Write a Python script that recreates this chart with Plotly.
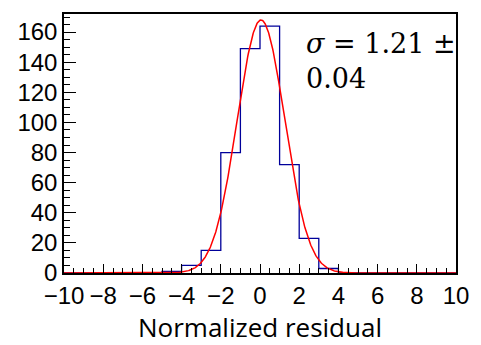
import numpy as np
import plotly.graph_objects as go

# Histogram data (bin edges of width 1 from -10 to 10)
bin_edges = list(range(-10, 11))
counts = [0, 0, 0, 0, 0, 1, 5, 15, 80, 149, 164, 72, 23, 3, 0, 0, 0, 0, 0, 0]

# Gaussian fit parameters
fit_amp = 168.0
fit_mean = 0.05
fit_sigma = 1.21

x_ticks = list(range(-10, 11, 2))
y_ticks = list(range(0, 161, 20))

# step outline
step_x = [bin_edges[0]] + bin_edges
step_y = [0] + counts + [counts[-1]]

xf = np.linspace(-10, 10, 801)
yf = fit_amp * np.exp(-0.5 * ((xf - fit_mean) / fit_sigma) ** 2)

fig = go.Figure()
fig.add_trace(go.Scatter(x=step_x, y=step_y, mode="lines", line_shape="hv",
                         line=dict(color="#00009a", width=1.3), hoverinfo="skip"))
fig.add_trace(go.Scatter(x=xf, y=yf, mode="lines",
                         line=dict(color="#ff0000", width=1.5), hoverinfo="skip"))

fig.add_annotation(x=0.612, y=0.955, xref="paper", yref="paper", xanchor="left", yanchor="top",
                   text="<i>σ</i> = 1.21 ±<br>0.04", showarrow=False, align="left",
                   font=dict(family="DejaVu Serif", size=27, color="black"))

fig.update_layout(
    width=481, height=345,
    margin=dict(l=64, r=18, t=13, b=67),
    paper_bgcolor="white", plot_bgcolor="white",
    showlegend=False,
    font=dict(family="Liberation Sans", size=24, color="black"),
)
fig.update_xaxes(range=[-10, 10], tickvals=x_ticks, showgrid=False, zeroline=False,
                 showline=True, linecolor="black", linewidth=1.5, mirror=True,
                 ticks="inside", ticklen=9, tickwidth=1.3, tickcolor="black",
                 minor=dict(dtick=0.5, ticks="inside", ticklen=5, tickwidth=1, tickcolor="black"),
                 title=dict(text="Normalized residual", font=dict(family="Open Sans", size=26), standoff=6))
fig.update_yaxes(range=[0, 172], tickvals=y_ticks, showgrid=False, zeroline=False,
                 showline=True, linecolor="black", linewidth=1.5, mirror=True,
                 ticks="inside", ticklen=12, tickwidth=1.3, tickcolor="black",
                 minor=dict(dtick=5, ticks="inside", ticklen=6, tickwidth=1, tickcolor="black"))

fig.write_html("out.html")
